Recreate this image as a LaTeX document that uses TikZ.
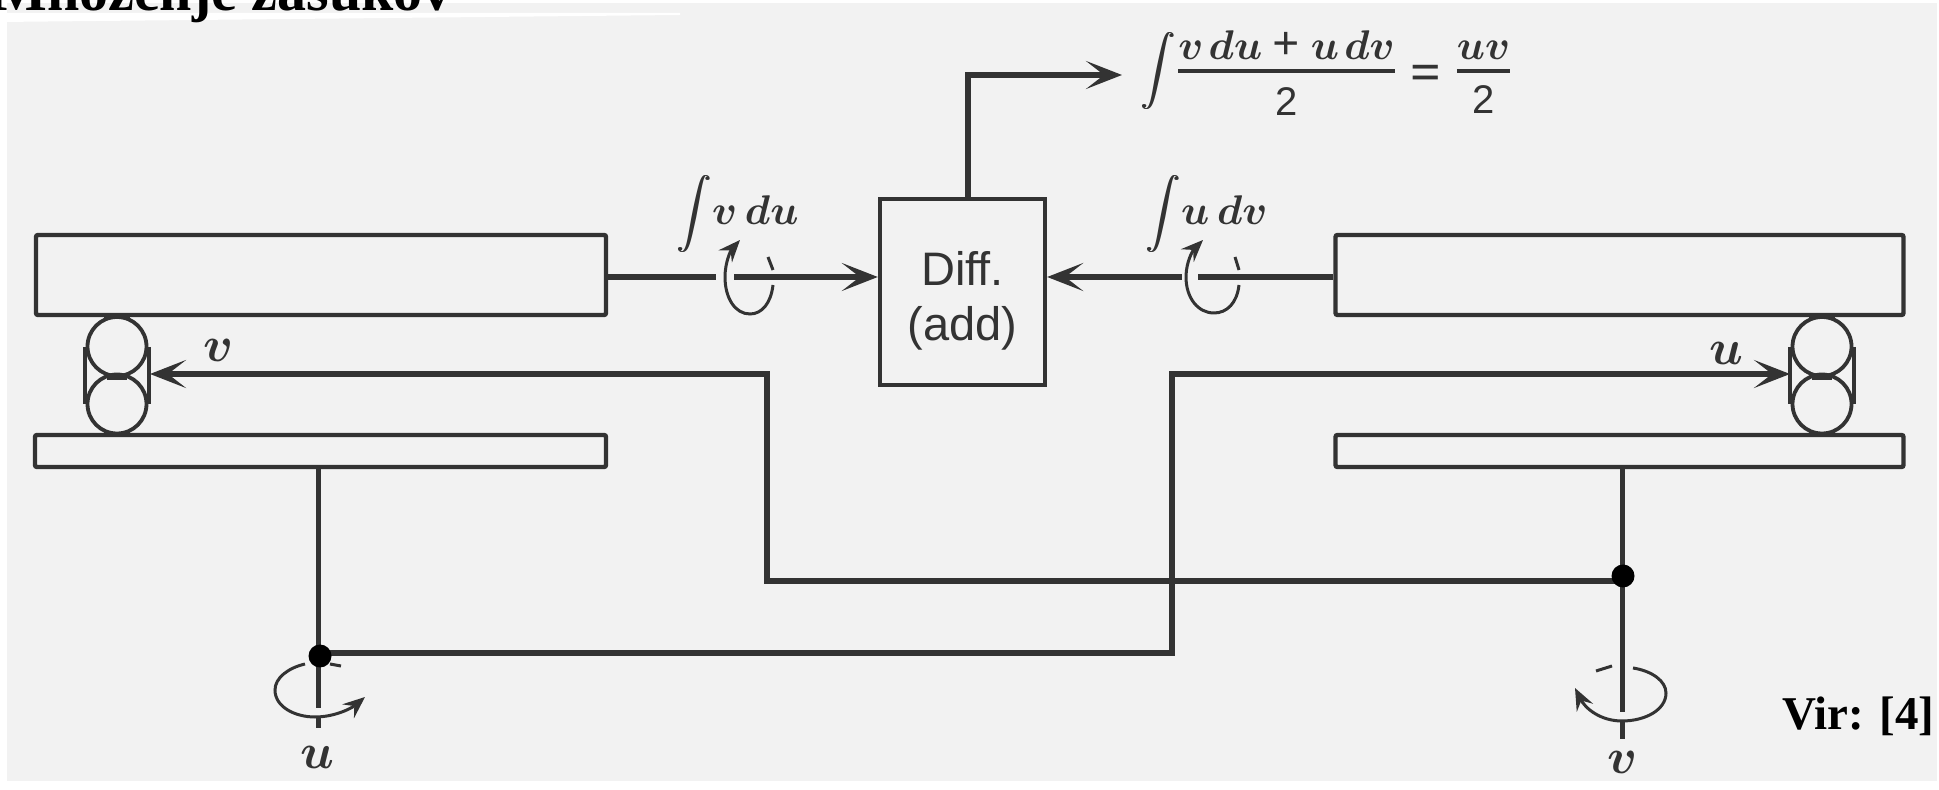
\documentclass[tikz,border=0pt]{standalone}
\usepackage{amsmath}
\usepackage{graphicx}
\usepackage{fontspec}
\setmainfont{Liberation Serif}
\newfontfamily\diffont{Liberation Sans}
\usetikzlibrary{arrows.meta}
\definecolor{paper}{HTML}{F2F2F2}
\definecolor{ink}{HTML}{333333}
\newcommand{\intglyph}{\resizebox*{!}{38.5pt}{$\displaystyle\int$}}
\newcommand{\bigintg}{\vcenter{\hbox{\rlap{\intglyph}\kern0.5pt\intglyph}}}
\newcommand{\sanstwo}{\raisebox{1.5pt}[0pt][0pt]{\diffont\fontsize{20}{20}\selectfont 2}}
\newcommand{\numer}[1]{\raisebox{-4.5pt}[\height][0pt]{$#1$}}
\tikzset{
  x=0.5pt,y=-0.5pt,
  wire/.style={draw=ink,line width=3pt},
  shaft/.style={draw=ink,line width=2.5pt},
  bar/.style={draw=ink,line width=2.2pt,rounded corners=1pt},
  thin line/.style={draw=ink,line width=1.5pt},
  side line/.style={draw=ink,line width=1.9pt},
  head/.style={-{Stealth[length=18pt,width=14pt,inset=9pt]}},
  shead/.style={-{Stealth[length=11pt,width=9pt,inset=4pt]}},
  lab/.style={inner sep=0pt,text=ink,font=\fontsize{25}{25}\selectfont},
  dot/.style={circle,fill=black,inner sep=0pt,minimum size=11.5pt},
}
\begin{document}
\begin{tikzpicture}
\useasboundingbox (0,0) rectangle (1939,790);
\fill[paper] (7,3) rectangle (1937,781);
\fill[white] (0,13) -- (680,13) -- (680,15) -- (0,22) -- cycle;
% title
\node[anchor=base west,inner sep=0pt,font=\fontsize{29}{29}\bfseries] (title) at (-8,11) {Množenje zasukov};
\node[anchor=base east,inner sep=0pt,font=\fontsize{23.5}{23.5}\bfseries] (vir) at (1935,729) {Vir: [4]};
% bars
\node[bar,minimum width=285pt,minimum height=40pt,inner sep=0pt] (tl) at (321,275) {};
\node[bar,minimum width=284pt,minimum height=40pt,inner sep=0pt] (tr) at (1619.5,275) {};
\node[bar,minimum width=285.5pt,minimum height=16pt,inner sep=0pt] (pl) at (320.5,451) {};
\node[bar,minimum width=284pt,minimum height=16pt,inner sep=0pt] (pr) at (1619.5,451) {};
\node[draw=ink,line width=2.2pt,minimum width=82.5pt,minimum height=93pt,inner sep=0pt,align=center,font=\diffont\fontsize{23.5}{27.5}\selectfont,text=ink] (diff) at (962.5,292) {\rule{0pt}{26pt}Diff.\\(add)};
% rollers
\foreach \n/\cx in {l/117,r/1822}{
  \node[circle,draw=ink,line width=1.9pt,minimum size=29.5pt,inner sep=0pt] (\n a) at (\cx,346.5) {};
  \node[circle,draw=ink,line width=1.9pt,minimum size=29.5pt,inner sep=0pt] (\n b) at (\cx,404) {};
  \coordinate (\n c1) at (\cx-32,347);
  \coordinate (\n c2) at (\cx-32,404);
  \coordinate (\n c3) at (\cx+32,347);
  \coordinate (\n c4) at (\cx+32,404);
  \draw[side line] (\n c1) -- (\n c2);
  \draw[side line] (\n c3) -- (\n c4);
  \draw[draw=ink,line width=2.4pt] (\n a.south) ++(-10,0) -- ++(20,0);
  \draw[draw=ink,line width=2.2pt] (\n a.north) ++(-13,1) -- ++(26,0);
  \draw[draw=ink,line width=2.2pt] (\n b.south) ++(-13,-1) -- ++(26,0);
}
% wiring
\coordinate (vturn1) at (767,374);
\coordinate (vturn2) at (767,581);
\coordinate (vj) at (1622,581);
\coordinate (uturn1) at (1172,374);
\coordinate (uturn2) at (1172,653);
\draw[wire,head] (vj) -- (vturn2) -- (vturn1) -- (150,374);
\draw[wire,head] (320,653) -- (uturn2) -- (uturn1) -- (1790,374);
% shafts
\coordinate (ushaftend) at (318,708);
\coordinate (ushaftlow1) at (318,717);
\coordinate (ushaftlow2) at (318,728);
\draw[shaft] (pl.south -| ushaftend) -- (ushaftend);
\draw[shaft] (ushaftlow1) -- (ushaftlow2);
\coordinate (vshaftend) at (1622,712);
\coordinate (vshaftlow1) at (1622,721);
\coordinate (vshaftlow2) at (1622,739);
\draw[shaft] (pr.south -| vshaftend) -- (vshaftend);
\draw[shaft] (vshaftlow1) -- (vshaftlow2);
\node[dot] (du) at (320,656) {};
\node[dot] (dv) at (1623,576) {};
% diff connections
\coordinate (ltap) at (716,277);
\coordinate (ltap2) at (734,277);
\coordinate (rtap) at (1198,277);
\coordinate (rtap2) at (1182,277);
\draw[wire] (tl.east |- ltap) -- (ltap);
\draw[wire,head] (ltap2) -- (diff.west |- ltap2);
\draw[wire] (tr.west |- rtap) -- (rtap);
\draw[wire,head] (rtap2) -- (diff.east |- rtap2);
\coordinate (oturn) at (968,75);
\coordinate (oend) at (1122,75);
\draw[wire,head] (diff.north -| oturn) -- (oturn) -- (oend);
% rotation arrows
\draw[thin line,shead] (773,285) .. controls (771,303) and (762,314) .. (750,314) .. controls (735,314) and (725,298) .. (725,277) .. controls (725,262) and (731,250) .. (740,240);
\draw[thin line] (768,257) -- (773,270);
\draw[thin line,shead] (1239,285) .. controls (1237,303) and (1227,313) .. (1214,313) .. controls (1198,313) and (1186,298) .. (1186,277) .. controls (1186,262) and (1193,250) .. (1203,240);
\draw[thin line] (1235,257) -- (1239,270);
\draw[thin line,shead] (305,664) .. controls (288,668) and (275,678) .. (275,690) .. controls (275,707) and (295,717) .. (315,717) .. controls (335,717) and (352,708) .. (365,697);
\draw[thin line] (330,664) -- (341,666);
\draw[thin line,shead] (1633,668) .. controls (1652,671) and (1666,681) .. (1666,693) .. controls (1666,710) and (1645,721) .. (1622,721) .. controls (1600,721) and (1585,708) .. (1575,688);
\draw[thin line] (1596,671) -- (1612,666);
% labels
\node[lab] (lv) at (219,350) {$\boldsymbol{v}$};
\node[lab] (lu) at (1726,353) {$\boldsymbol{u}$};
\node[lab] (lu2) at (317,757) {$\boldsymbol{u}$};
\node[lab] (lv2) at (1623,762) {$\boldsymbol{v}$};
\node[anchor=west,inner sep=0pt,text=ink,font=\fontsize{20.5}{20.5}\selectfont] (i1) at (676,214) {{\boldmath$\bigintg v\,du$}};
\node[anchor=west,inner sep=0pt,text=ink,font=\fontsize{20.5}{20.5}\selectfont] (i2) at (1145,214) {{\boldmath$\bigintg u\,dv$}};
\node[anchor=west,inner sep=0pt,text=ink,font=\fontsize{20}{20}\selectfont] (res) at (1140,70) {{\boldmath$\bigintg\genfrac{}{}{2.3pt}{0}{\numer{v\mkern2mu du\mathbin{\mbox{\bfseries\fontsize{24}{24}\selectfont +}}u\mkern2mu dv}}{\sanstwo}\mathrel{\raisebox{-4.5pt}{\bfseries\fontsize{27}{27}\selectfont =}}\genfrac{}{}{2pt}{0}{\numer{uv}}{\sanstwo}$}};
\end{tikzpicture}
\end{document}
